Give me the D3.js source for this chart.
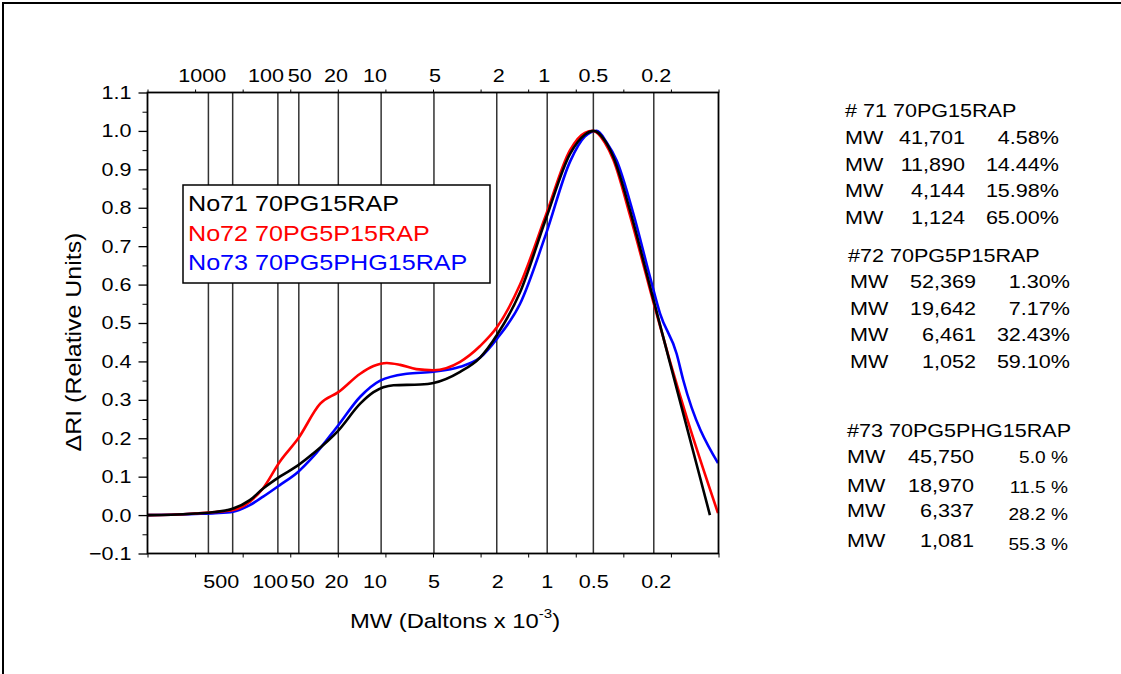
<!DOCTYPE html>
<html>
<head>
<meta charset="utf-8">
<script src="https://cdn.jsdelivr.net/npm/d3@7"></script>
<style>
  body { margin: 0; background: #fff; }
  svg { display: block; }
  text { font-family: "Liberation Sans", Arial, sans-serif; }
</style>
</head>
<body>
<svg id="chart" width="1121" height="674"></svg>
<script>
// elution position (arbitrary units along the column) vs detector response
const no71 = [[0,0],[0.5,0.001],[1.0,0.004],[1.42,0.008],[1.8,0.017],[2.15,0.039],[2.43,0.069],[2.78,0.1],[3.17,0.13],[3.48,0.16],[4.01,0.22],[4.47,0.29],[4.75,0.32],[5.17,0.338],[5.73,0.34],[6.01,0.344],[6.57,0.373],[6.99,0.41],[7.35,0.47],[7.83,0.58],[8.37,0.77],[8.88,0.94],[9.19,0.99],[9.38,1.0],[9.61,0.975],[9.79,0.932],[10.14,0.793],[10.49,0.629],[10.63,0.562],[10.98,0.396],[11.33,0.231],[11.82,0.0]]
const no72 = [[0,0],[0.5,0.001],[1.0,0.004],[1.42,0.008],[1.8,0.013],[2.15,0.035],[2.43,0.07],[2.78,0.139],[3.17,0.2],[3.63,0.29],[4.01,0.32],[4.47,0.368],[4.75,0.388],[5.03,0.396],[5.31,0.391],[5.65,0.38],[6.01,0.377],[6.57,0.399],[6.99,0.44],[7.35,0.49],[7.83,0.6],[8.37,0.78],[8.88,0.95],[9.19,0.995],[9.36,1.0],[9.61,0.97],[9.79,0.925],[10.14,0.78],[10.49,0.62],[10.63,0.555],[10.98,0.4],[11.33,0.255],[11.99,0.005]]
const no73 = [[0,0],[0.5,0.001],[1.0,0.003],[1.42,0.005],[1.8,0.009],[2.15,0.026],[2.43,0.048],[2.78,0.078],[3.17,0.113],[3.48,0.152],[4.01,0.234],[4.47,0.308],[4.89,0.35],[5.45,0.368],[6.01,0.373],[6.57,0.386],[6.99,0.41],[7.35,0.46],[7.83,0.55],[8.37,0.73],[8.88,0.92],[9.19,0.985],[9.44,1.0],[9.65,0.97],[9.86,0.923],[10.21,0.785],[10.56,0.62],[10.77,0.525],[11.12,0.42],[11.26,0.351],[11.99,0.135]]

const seriesNames = ["No71 70PG15RAP", "No72 70PG5P15RAP", "No73 70PG5PHG15RAP"]
const seriesColors = ["#000000", "#ff0000", "#0000ff"]

// calibration lines (MW in kDa) and their labels
const mwLines = [1.28, 1.79, 2.74, 3.18, 4.01, 4.91, 6.02, 7.34, 8.40, 9.37, 10.64]
const topLabels = ["1000", "100", "50", "20", "10", "5", "2", "1", "0.5", "0.2"]
const topLabelPos = [1.15, 2.49, 3.2, 3.96, 4.78, 6.04, 7.38, 8.34, 9.37, 10.69]
const bottomLabels = ["500", "100", "50", "20", "10", "5", "2", "1", "0.5", "0.2"]
const bottomLabelPos = [1.55, 2.58, 3.26, 3.97, 4.78, 6.02, 7.36, 8.4, 9.38, 10.69]

// peak summaries on the right
const hdr71 = "# 71 70PG15RAP"
const mw71 = ["41,701", "11,890", "4,144", "1,124"]
const pct71 = ["4.58%", "14.44%", "15.98%", "65.00%"]
const hdr72 = "#72 70PG5P15RAP"
const mw72 = ["52,369", "19,642", "6,461", "1,052"]
const pct72 = ["1.30%", "7.17%", "32.43%", "59.10%"]
const hdr73 = "#73 70PG5PHG15RAP"
const mw73 = ["45,750", "18,970", "6,337", "1,081"]
const pct73 = ["5.0 %", "11.5 %", "28.2 %", "55.3 %"]

const svg = d3.select("#chart")
const SX = 1.16   // the original text is drawn a bit wide

function label(sel, x, y, str, size, anchor, color) {
  return sel.append("text")
    .attr("transform", `translate(${x},${y}) scale(${SX},1)`)
    .attr("text-anchor", anchor || "start")
    .attr("font-size", size)
    .attr("fill", color || "#000")
    .text(str)
}

// page frame
svg.append("path")
  .attr("d", "M3,674 V3 H1121")
  .attr("fill", "none")
  .attr("stroke", "#000")
  .attr("stroke-width", 2)

const x = d3.scaleLinear().domain([0, 12]).range([147.5, 718.5])
const y = d3.scaleLinear().domain([-0.1, 1.1]).range([553.5, 92.5])

// MW guide lines
svg.append("g").selectAll("line")
  .data(mwLines)
  .join("line")
  .attr("x1", d => x(d)).attr("x2", d => x(d))
  .attr("y1", y(1.1)).attr("y2", y(-0.1))
  .attr("stroke", "#333")
  .attr("stroke-width", 1.5)

// small ticks on top and bottom
const xTicks = d3.range(0, 12.01, 1)
svg.append("g")
  .attr("transform", `translate(0,${y(-0.1)})`)
  .call(d3.axisBottom(x).tickValues(xTicks).tickSize(4).tickFormat(""))
  .call(g => g.select(".domain").remove())
svg.append("g")
  .attr("transform", `translate(0,${y(1.1)})`)
  .call(d3.axisTop(x).tickValues(xTicks).tickSize(3).tickFormat(""))
  .call(g => g.select(".domain").remove())

// y axis
const yAxis = svg.append("g")
  .attr("transform", `translate(${x(0)},0)`)
  .call(d3.axisLeft(y).tickValues(d3.range(-0.1, 1.101, 0.1)).tickSize(9).tickFormat(d3.format(".1f")))
yAxis.select(".domain").remove()
yAxis.selectAll(".tick line").attr("stroke-width", 1.3)
yAxis.selectAll(".tick text")
  .attr("font-size", 18.6)
  .attr("font-family", "Liberation Sans, Arial, sans-serif")
  .attr("fill", "#000")
  .attr("x", -16 / SX)
  .attr("transform", `scale(${SX},1)`)
svg.append("g")
  .attr("transform", `translate(${x(0)},0)`)
  .call(d3.axisLeft(y).tickValues(d3.range(-0.05, 1.1, 0.1)).tickSize(5).tickFormat(""))
  .call(g => g.select(".domain").remove())

// curves
const line = d3.line()
  .x(d => x(d[0]))
  .y(d => y(d[1]))
  .curve(d3.curveMonotoneX)

const allSeries = [no71, no72, no73]
// draw blue, red, then black on top
;[2, 1, 0].forEach(i => {
  svg.append("path")
    .datum(allSeries[i])
    .attr("d", line)
    .attr("fill", "none")
    .attr("stroke", seriesColors[i])
    .attr("stroke-width", 2.6)
    .attr("stroke-linejoin", "round")
})

// plot frame
svg.append("rect")
  .attr("x", x(0)).attr("y", y(1.1))
  .attr("width", x(12) - x(0))
  .attr("height", y(-0.1) - y(1.1))
  .attr("fill", "none")
  .attr("stroke", "#000")
  .attr("stroke-width", 1.8)

// MW labels
topLabels.forEach((t, i) => label(svg, x(topLabelPos[i]), 82, t, 18.6, "middle"))
bottomLabels.forEach((t, i) => label(svg, x(bottomLabelPos[i]), 588, t, 18.6, "middle"))

// axis titles
const xt = svg.append("text")
  .attr("transform", `translate(455,628) scale(${SX},1)`)
  .attr("text-anchor", "middle")
  .attr("font-size", 20.5)
xt.append("tspan").text("MW (Daltons x 10")
xt.append("tspan").attr("font-size", 13).attr("dy", -10).text("-3")
xt.append("tspan").attr("dy", 10).text(")")

svg.append("text")
  .attr("transform", `translate(81,342) rotate(-90) scale(${SX},1)`)
  .attr("text-anchor", "middle")
  .attr("font-size", 21.5)
  .text("\u0394RI (Relative Units)")

// legend
const legend = svg.append("g")
legend.append("rect")
  .attr("x", 183).attr("y", 185)
  .attr("width", 307).attr("height", 98)
  .attr("fill", "#fff")
  .attr("stroke", "#000")
  .attr("stroke-width", 1.5)
seriesNames.forEach((name, i) => {
  legend.append("text")
    .attr("transform", `translate(188,${211 + i * 29.5}) scale(1.17,1)`)
    .attr("font-size", 21.5)
    .attr("fill", seriesColors[i])
    .text(name)
})

// right-hand summary
const info = svg.append("g")
label(info, 845, 117, hdr71, 18.6)
mw71.forEach((v, i) => {
  const by = 144 + i * 26.7
  label(info, 845, by, "MW", 18.6)
  label(info, 965, by, v, 18.6, "end")
  label(info, 1059, by, pct71[i], 18.6, "end")
})
label(info, 848, 262, hdr72, 18.6)
mw72.forEach((v, i) => {
  const by = 288 + i * 26.7
  label(info, 850, by, "MW", 18.6)
  label(info, 976, by, v, 18.6, "end")
  label(info, 1070, by, pct72[i], 18.6, "end")
})
label(info, 847, 437, hdr73, 18.6)
mw73.forEach((v, i) => {
  const by = [463.3, 491.7, 517.3, 546.7][i]
  label(info, 847, by, "MW", 18.6)
  label(info, 974, by, v, 18.6, "end")
  label(info, 1068, by + i * 1.2, pct73[i], 16.5, "end")
})
</script>
</body>
</html>
